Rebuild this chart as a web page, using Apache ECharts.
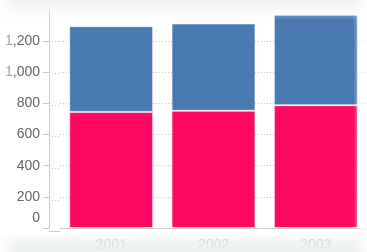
<!DOCTYPE html>
<html>
<head>
<meta charset="utf-8">
<script src="https://cdn.jsdelivr.net/npm/echarts@6/dist/echarts.min.js"></script>
<style>
  html, body { margin: 0; padding: 0; background: #fff; }
  #wrap { position: relative; width: 367px; height: 252px; overflow: hidden; }
  #chart { width: 367px; height: 252px; }
  /* soft vignette round the picture */
  #fade {
    position: absolute; left: 0; top: 0; width: 367px; height: 252px; pointer-events: none;
    background:
      linear-gradient(to right, rgba(255,255,255,0.9) 0px, rgba(255,255,255,0) 16px),
      linear-gradient(to left, rgba(255,255,255,0.85) 0px, rgba(255,255,255,0) 14px),
      linear-gradient(to bottom, rgba(238,241,241,0.9) 0px, rgba(238,241,241,0) 20px),
      linear-gradient(to top, rgba(236,239,239,0.95) 0px, rgba(236,239,239,0.6) 12px, rgba(236,239,239,0) 18px);
  }
</style>
</head>
<body>
<div id="wrap">
  <div id="chart"></div>
  <div id="fade"></div>
</div>
<script>
// data
const years = ['2001', '2002', '2003'];
const pinkVals = [745, 752, 788];
const blueVals = [550, 560, 580];
const yTicks = { min: 0, max: 1400, interval: 200 };

const gridLine = { showMaxLine: false, lineStyle: { color: '#c4c4c4', type: [1, 2], width: 1 } };
const axisGray = '#c9cccc';

(function(){
  const el = document.getElementById('chart');
  const inst = echarts.init(el, null, { renderer: 'canvas' });

  const barStyle = (c) => ({ color: c, borderColor: 'rgba(255,255,255,0.55)', borderWidth: 1 });

  inst.setOption({
    animation: false,
    grid: [
      { left: 60, right: -9.5, top: 9.8, bottom: 20.5 },
      // thin strip between y axis and first category, just for gridlines
      { left: 49, width: 11, top: 9.8, bottom: 20.5 }
    ],
    xAxis: [{
      type: 'category',
      data: years,
      axisLine: { lineStyle: { color: axisGray } },
      axisTick: { length: 7, lineStyle: { color: axisGray } },
      axisLabel: { color: '#bdbdbd', fontSize: 14, margin: 10, fontFamily: 'Liberation Sans' }
    }, {
      gridIndex: 1,
      type: 'category',
      data: [''],
      axisLine: { lineStyle: { color: axisGray } },
      axisTick: { show: false },
      axisLabel: { show: false }
    }],
    yAxis: [{
      type: 'value',
      min: yTicks.min, max: yTicks.max, interval: yTicks.interval,
      offset: 11,
      axisLine: { show: true, lineStyle: { color: axisGray } },
      axisTick: { show: true, length: 6, lineStyle: { color: axisGray } },
      splitLine: gridLine,
      axisLabel: {
        showMaxLabel: false,
        color: '#666',
        fontSize: 14,
        margin: 9,
        fontFamily: 'Liberation Sans',
        formatter: v => v === 0 ? '{z|0}' : v.toLocaleString('en-US'),
        rich: { z: { fontSize: 14, color: '#666', padding: [0, 0, 19, 0], fontFamily: 'Liberation Sans' } }
      }
    }, {
      gridIndex: 1,
      type: 'value',
      min: yTicks.min, max: yTicks.max, interval: yTicks.interval,
      axisLine: { show: false },
      axisTick: { show: false },
      axisLabel: { show: false },
      splitLine: gridLine
    }],
    series: [{
      name: 'Lower',
      type: 'bar',
      stack: 'total',
      barCategoryGap: '18%',
      data: pinkVals,
      itemStyle: barStyle('#ff0a62')
    }, {
      name: 'Upper',
      type: 'bar',
      stack: 'total',
      barCategoryGap: '18%',
      data: blueVals,
      itemStyle: barStyle('#487ab1')
    }]
  });

  window.addEventListener('resize', () => { try { inst.resize(); } catch (e) {} }, { passive: true });
})();
</script>
</body>
</html>
